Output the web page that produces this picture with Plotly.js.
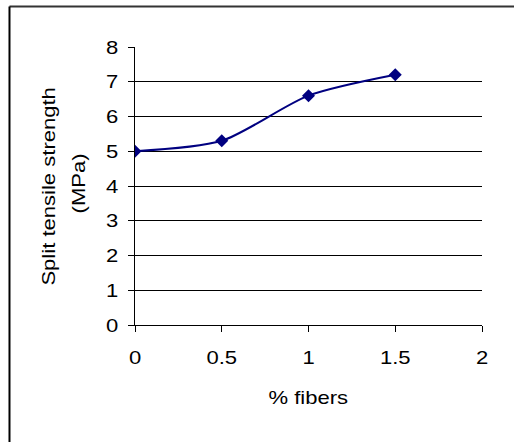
<!DOCTYPE html>
<html>
<head>
<meta charset="utf-8">
<script src="https://cdn.plot.ly/plotly-3.0.1.min.js"></script>
<style>
  html, body { margin: 0; padding: 0; background: #fff; }
  #chart { width: 514px; height: 442px; }
</style>
</head>
<body>
<div id="chart"></div>
<script>
// Data
const fibers = [0, 0.5, 1, 1.5];
const strength = [5.0, 5.3, 6.6, 7.2];
const xTickVals = [0, 0.5, 1, 1.5, 2];
const xTickText = ['0', '0.5', '1', '1.5', '2'];
const yTickVals = [0, 1, 2, 3, 4, 5, 6, 7, 8];
const yTickText = ['0', '1', '2', '3', '4', '5', '6', '7', '8'];
const xTitle = '% fibers';
const yTitleLine1 = 'Split tensile strength';
const yTitleLine2 = '(MPa)';

const FONT = 'Liberation Sans, Arial, Helvetica, sans-serif';
const FS = 19;
const TEXT_STRETCH = 1.16;

const trace = {
  x: fibers,
  y: strength,
  type: 'scatter',
  mode: 'lines+markers',
  line: { color: '#000080', width: 2, shape: 'spline', smoothing: 0.75 },
  marker: { symbol: 'diamond', size: 10, color: '#000080' },
  hoverinfo: 'skip'
};

const layout = {
  width: 514,
  height: 442,
  margin: { l: 135, r: 32, t: 47, b: 117 },
  paper_bgcolor: '#ffffff',
  plot_bgcolor: '#ffffff',
  showlegend: false,
  font: { family: FONT, size: FS, color: '#000' },
  xaxis: {
    range: [0, 2],
    tickvals: xTickVals,
    ticktext: xTickText,
    ticks: 'outside',
    ticklen: 6,
    tickcolor: '#000',
    tickwidth: 1,
    showline: true,
    linecolor: '#000',
    linewidth: 1,
    showgrid: false,
    zeroline: false,
    ticklabelstandoff: 9,
    tickfont: { family: FONT, size: FS, color: '#000' },
    fixedrange: true
  },
  yaxis: {
    range: [0, 8],
    tickvals: yTickVals,
    ticktext: yTickText,
    ticks: 'outside',
    ticklen: 6,
    tickcolor: '#000',
    tickwidth: 1,
    showline: true,
    linecolor: '#000',
    linewidth: 1,
    showgrid: true,
    gridcolor: '#000',
    gridwidth: 1,
    zeroline: false,
    ticklabelstandoff: 6,
    tickfont: { family: FONT, size: FS, color: '#000' },
    fixedrange: true
  },
  annotations: [
    {
      text: xTitle, xref: 'paper', yref: 'paper',
      x: 0.5, y: -0.26, xanchor: 'center', yanchor: 'middle',
      showarrow: false, font: { family: FONT, size: FS, color: '#000' }
    },
    {
      text: yTitleLine1, xref: 'paper', yref: 'paper',
      x: -0.251, y: 0.5, xanchor: 'center', yanchor: 'middle', textangle: -90,
      showarrow: false, font: { family: FONT, size: FS, color: '#000' }
    },
    {
      text: yTitleLine2, xref: 'paper', yref: 'paper',
      x: -0.164, y: 0.51, xanchor: 'center', yanchor: 'middle', textangle: -90,
      showarrow: false, font: { family: FONT, size: FS, color: '#000' }
    }
  ],
  shapes: [
    { type: 'line', xref: 'paper', yref: 'paper', x0: -0.3617, x1: 1.12, y0: 1.1457, y1: 1.1457,
      line: { color: '#333', width: 2 } },
    { type: 'line', xref: 'paper', yref: 'paper', x0: -0.3617, x1: -0.3617, y0: 1.1457, y1: -0.46,
      line: { color: '#000', width: 2 } }
  ]
};

Plotly.newPlot('chart', [trace], layout, { displayModeBar: false, staticPlot: true }).then(function (gd) {
  // The reference text is rendered horizontally widened; stretch glyphs along the text direction.
  gd.querySelectorAll('svg text').forEach(function (el) {
    if (!el.textContent) return;
    var w = el.getComputedTextLength();
    if (w > 0) {
      el.setAttribute('textLength', (w * TEXT_STRETCH).toFixed(2));
      el.setAttribute('lengthAdjust', 'spacingAndGlyphs');
    }
  });
});
</script>
</body>
</html>
